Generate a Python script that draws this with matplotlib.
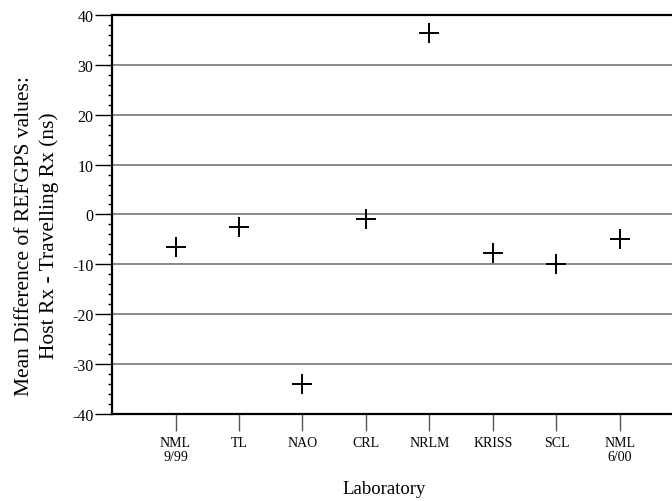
import matplotlib
matplotlib.use("Agg")
import matplotlib.pyplot as plt
from matplotlib.ticker import MultipleLocator

# data
labs = ["NML\n9/99", "TL", "NAO", "CRL", "NRLM", "KRISS", "SCL", "NML\n6/00"]
diff_ns = [-6.6, -2.6, -34.0, -0.9, 36.4, -7.7, -9.9, -4.9]

plt.rcParams['font.family'] = ['Liberation Serif', 'DejaVu Serif']
plt.rcParams['axes.unicode_minus'] = False

fig = plt.figure(figsize=(6.72, 5.02), dpi=100)
ax = fig.add_axes([0.1667, 0.1733, 0.8333, 0.795])

xpos = list(range(1, len(labs) + 1))
ax.plot(xpos, diff_ns, linestyle='none', marker='+', markersize=14,
        markeredgewidth=1.4, color='black', zorder=3)

ax.set_xlim(0, 8.82)
ax.set_ylim(-40, 40)
ax.yaxis.set_major_locator(MultipleLocator(10))
ax.yaxis.set_minor_locator(MultipleLocator(2))
ax.set_xticks(xpos)
ax.set_xticklabels(labs, fontsize=10, linespacing=1.05)
ax.tick_params(axis='y', which='major', length=12, width=1, labelsize=11.5, pad=1.5)
ax.tick_params(axis='y', which='minor', length=3, width=1)
ax.tick_params(axis='x', length=12, width=1, pad=4, color='#555555')

ax.grid(axis='y', which='major', color='#777777', linewidth=1.2, zorder=0)

for s in ['left', 'bottom', 'top']:
    ax.spines[s].set_linewidth(1.6)
ax.spines['right'].set_visible(False)

# axis titles placed as in the reference
fig.text(37 / 672, 1 - 236 / 502,
         "Mean Difference of REFGPS values:\nHost Rx - Travelling Rx (ns)",
         rotation=90, ha='center', va='center', fontsize=15.5, linespacing=1.3)
fig.text(384 / 672, 1 - 490 / 502, "Laboratory", ha='center', va='center',
         fontsize=13.5)

fig.savefig("out.png", dpi=100)
